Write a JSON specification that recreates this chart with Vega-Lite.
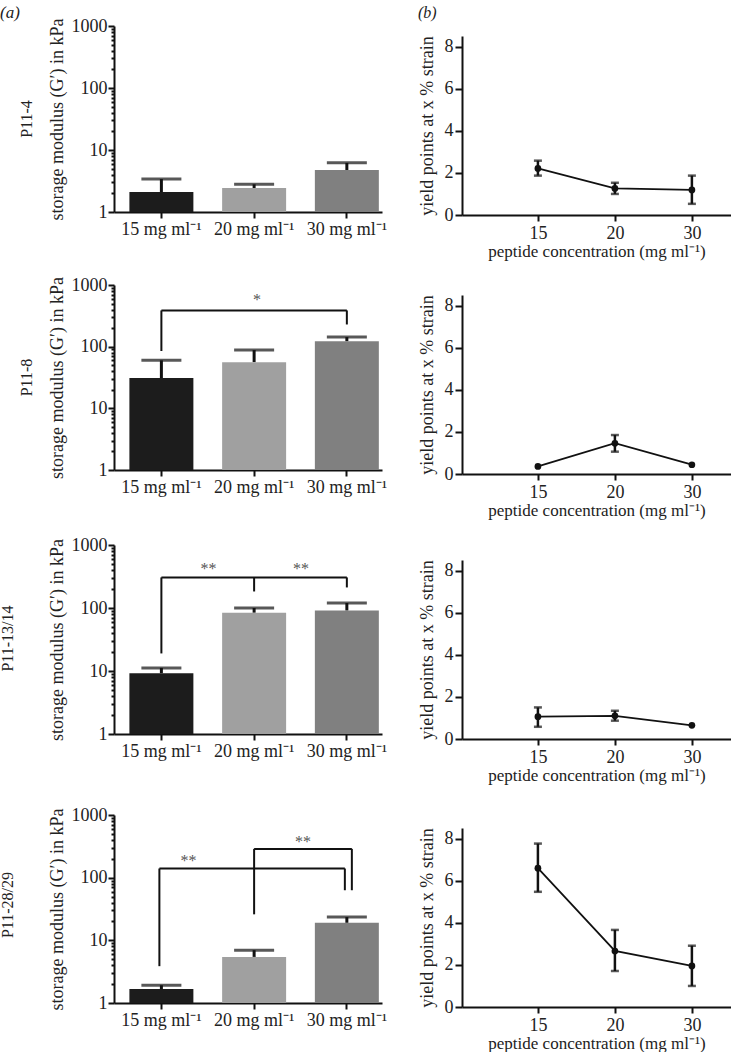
{
  "$schema": "https://vega.github.io/schema/vega-lite/v6.json",
  "background": "white",
  "padding": {"left": 0, "top": 4, "right": 0, "bottom": 4},
  "config": {
    "font": "Liberation Serif",
    "view": {"stroke": null},
    "axis": {"domainColor": "#111", "domainWidth": 2, "tickColor": "#111", "tickWidth": 2, "labelFont": "Liberation Serif", "titleFont": "Liberation Serif", "labelFontSize": 18, "labelColor": "#222", "titleFontSize": 18, "titleFontWeight": "normal", "titleColor": "#222", "grid": false, "labelOverlap": false},
    "title": {"font": "Liberation Serif", "fontWeight": "normal", "fontSize": 16, "color": "#222"}
  },
  "spacing": 31,
  "hconcat": [
    {
      "title": {"text": "(a)", "anchor": "start", "fontStyle": "italic", "fontSize": 17, "offset": -5},
      "bounds": "flush",
      "spacing": 73,
      "vconcat": [
        {
          "title": {"text": "P11-4", "orient": "left", "offset": 13, "anchor": "middle"},
          "width": 268, "height": 186,
          "data": {"values": [
            {"cat": "15 mg ml⁻¹", "v": 2.1, "err": 3.4},
            {"cat": "20 mg ml⁻¹", "v": 2.44, "err": 2.8},
            {"cat": "30 mg ml⁻¹", "v": 4.75, "err": 6.2}
          ]},
          "layer": [
            {"mark": {"type": "rule", "color": "#111", "strokeWidth": 3}, "encoding": {"x": {"field": "cat", "type": "nominal"}, "y": {"field": "v", "type": "quantitative"}, "y2": {"field": "err"}}},
            {"mark": {"type": "bar"}, "encoding": {
              "x": {"field": "cat", "type": "nominal", "scale": {"domain": ["15 mg ml⁻¹", "20 mg ml⁻¹", "30 mg ml⁻¹"], "paddingInner": 0.31, "paddingOuter": 0.1, "align": 0.83}, "axis": {"title": null, "labelAngle": 0, "labelAlign": "center", "labelBaseline": "top", "tickSize": 6, "labelPadding": 2}},
              "y": {"field": "v", "type": "quantitative", "scale": {"type": "log", "domain": [1, 1000]}, "axis": {"title": "storage modulus (G′) in kPa", "values": [1,2,3,4,5,6,7,8,9,10,20,30,40,50,60,70,80,90,100,200,300,400,500,600,700,800,900,1000], "format": "d", "labelExpr": "indexof([1,10,100,1000], datum.value) >= 0 ? datum.label : ''", "tickSize": {"condition": {"test": "indexof([1,10,100,1000], datum.value) >= 0", "value": 6}, "value": 3}, "labelPadding": 1, "titlePadding": 5}},
              "y2": {"datum": 1},
              "color": {"field": "cat", "type": "nominal", "scale": {"domain": ["15 mg ml⁻¹", "20 mg ml⁻¹", "30 mg ml⁻¹"], "range": ["#1c1c1c", "#a0a0a0", "#808080"]}, "legend": null}
            }},
            {"mark": {"type": "tick", "orient": "horizontal", "size": 40, "thickness": 3, "color": "#111"}, "encoding": {"x": {"field": "cat", "type": "nominal"}, "y": {"field": "err", "type": "quantitative"}}}
          ]
        },
        {
          "title": {"text": "P11-8", "orient": "left", "offset": 13, "anchor": "middle"},
          "width": 268, "height": 185,
          "data": {"values": [
            {"cat": "15 mg ml⁻¹", "v": 31, "err": 60},
            {"cat": "20 mg ml⁻¹", "v": 56, "err": 88},
            {"cat": "30 mg ml⁻¹", "v": 122, "err": 143}
          ]},
          "layer": [
            {"mark": {"type": "rule", "color": "#111", "strokeWidth": 3}, "encoding": {"x": {"field": "cat", "type": "nominal"}, "y": {"field": "v", "type": "quantitative"}, "y2": {"field": "err"}}},
            {"mark": {"type": "bar"}, "encoding": {
              "x": {"field": "cat", "type": "nominal", "scale": {"domain": ["15 mg ml⁻¹", "20 mg ml⁻¹", "30 mg ml⁻¹"], "paddingInner": 0.31, "paddingOuter": 0.1, "align": 0.83}, "axis": {"title": null, "labelAngle": 0, "labelAlign": "center", "labelBaseline": "top", "tickSize": 6, "labelPadding": 2}},
              "y": {"field": "v", "type": "quantitative", "scale": {"type": "log", "domain": [1, 1000]}, "axis": {"title": "storage modulus (G′) in kPa", "values": [1,2,3,4,5,6,7,8,9,10,20,30,40,50,60,70,80,90,100,200,300,400,500,600,700,800,900,1000], "format": "d", "labelExpr": "indexof([1,10,100,1000], datum.value) >= 0 ? datum.label : ''", "tickSize": {"condition": {"test": "indexof([1,10,100,1000], datum.value) >= 0", "value": 6}, "value": 3}, "labelPadding": 1, "titlePadding": 5}},
              "y2": {"datum": 1},
              "color": {"field": "cat", "type": "nominal", "scale": {"domain": ["15 mg ml⁻¹", "20 mg ml⁻¹", "30 mg ml⁻¹"], "range": ["#1c1c1c", "#a0a0a0", "#808080"]}, "legend": null}
            }},
            {"mark": {"type": "tick", "orient": "horizontal", "size": 40, "thickness": 3, "color": "#111"}, "encoding": {"x": {"field": "cat", "type": "nominal"}, "y": {"field": "err", "type": "quantitative"}}},
            {"data": {"values": [
              {"c1": "15 mg ml⁻¹", "c2": "15 mg ml⁻¹", "y1": 85, "y2": 387},
              {"c1": "15 mg ml⁻¹", "c2": "30 mg ml⁻¹", "y1": 387, "y2": 387},
              {"c1": "30 mg ml⁻¹", "c2": "30 mg ml⁻¹", "y1": 229, "y2": 387}
            ]}, "mark": {"type": "rule", "color": "#111", "strokeWidth": 2}, "encoding": {"x": {"field": "c1", "type": "nominal"}, "x2": {"field": "c2"}, "y": {"field": "y1", "type": "quantitative"}, "y2": {"field": "y2"}}},
            {"data": {"values": [{"c": "20 mg ml⁻¹", "y": 570, "s": "*"}]}, "mark": {"type": "text", "fontSize": 16, "color": "#555", "baseline": "middle", "dx": 3}, "encoding": {"x": {"field": "c", "type": "nominal"}, "y": {"field": "y", "type": "quantitative"}, "text": {"field": "s"}}}
          ]
        },
        {
          "title": {"text": "P11-13/14", "orient": "left", "offset": 32, "anchor": "middle"},
          "width": 268, "height": 191,
          "data": {"values": [
            {"cat": "15 mg ml⁻¹", "v": 9.2, "err": 11.2},
            {"cat": "20 mg ml⁻¹", "v": 84, "err": 100},
            {"cat": "30 mg ml⁻¹", "v": 91, "err": 120}
          ]},
          "layer": [
            {"mark": {"type": "rule", "color": "#111", "strokeWidth": 3}, "encoding": {"x": {"field": "cat", "type": "nominal"}, "y": {"field": "v", "type": "quantitative"}, "y2": {"field": "err"}}},
            {"mark": {"type": "bar"}, "encoding": {
              "x": {"field": "cat", "type": "nominal", "scale": {"domain": ["15 mg ml⁻¹", "20 mg ml⁻¹", "30 mg ml⁻¹"], "paddingInner": 0.31, "paddingOuter": 0.1, "align": 0.83}, "axis": {"title": null, "labelAngle": 0, "labelAlign": "center", "labelBaseline": "top", "tickSize": 6, "labelPadding": 2}},
              "y": {"field": "v", "type": "quantitative", "scale": {"type": "log", "domain": [1, 1000], "range": [191, 2]}, "axis": {"title": "storage modulus (G′) in kPa", "values": [1,2,3,4,5,6,7,8,9,10,20,30,40,50,60,70,80,90,100,200,300,400,500,600,700,800,900,1000], "format": "d", "labelExpr": "indexof([1,10,100,1000], datum.value) >= 0 ? datum.label : ''", "tickSize": {"condition": {"test": "indexof([1,10,100,1000], datum.value) >= 0", "value": 6}, "value": 3}, "labelPadding": 1, "titlePadding": 5}},
              "y2": {"datum": 1},
              "color": {"field": "cat", "type": "nominal", "scale": {"domain": ["15 mg ml⁻¹", "20 mg ml⁻¹", "30 mg ml⁻¹"], "range": ["#1c1c1c", "#a0a0a0", "#808080"]}, "legend": null}
            }},
            {"mark": {"type": "tick", "orient": "horizontal", "size": 40, "thickness": 3, "color": "#111"}, "encoding": {"x": {"field": "cat", "type": "nominal"}, "y": {"field": "err", "type": "quantitative"}}},
            {"data": {"values": [
              {"c1": "15 mg ml⁻¹", "c2": "15 mg ml⁻¹", "y1": 19, "y2": 306},
              {"c1": "15 mg ml⁻¹", "c2": "30 mg ml⁻¹", "y1": 306, "y2": 306},
              {"c1": "20 mg ml⁻¹", "c2": "20 mg ml⁻¹", "y1": 183, "y2": 306},
              {"c1": "30 mg ml⁻¹", "c2": "30 mg ml⁻¹", "y1": 212, "y2": 306}
            ]}, "mark": {"type": "rule", "color": "#111", "strokeWidth": 2}, "encoding": {"x": {"field": "c1", "type": "nominal"}, "x2": {"field": "c2"}, "y": {"field": "y1", "type": "quantitative"}, "y2": {"field": "y2"}}},
            {"data": {"values": [{"c": "15 mg ml⁻¹", "y": 420, "s": "**"}, {"c": "20 mg ml⁻¹", "y": 420, "s": "**"}]}, "mark": {"type": "text", "fontSize": 16, "color": "#555", "baseline": "middle", "dx": 47}, "encoding": {"x": {"field": "c", "type": "nominal"}, "y": {"field": "y", "type": "quantitative"}, "text": {"field": "s"}}}
          ]
        },
        {
          "title": {"text": "P11-28/29", "orient": "left", "offset": 32, "anchor": "middle"},
          "width": 268, "height": 196,
          "data": {"values": [
            {"cat": "15 mg ml⁻¹", "v": 1.67, "err": 1.92},
            {"cat": "20 mg ml⁻¹", "v": 5.44, "err": 6.97},
            {"cat": "30 mg ml⁻¹", "v": 19.0, "err": 23.5}
          ]},
          "layer": [
            {"mark": {"type": "rule", "color": "#111", "strokeWidth": 3}, "encoding": {"x": {"field": "cat", "type": "nominal"}, "y": {"field": "v", "type": "quantitative"}, "y2": {"field": "err"}}},
            {"mark": {"type": "bar"}, "encoding": {
              "x": {"field": "cat", "type": "nominal", "scale": {"domain": ["15 mg ml⁻¹", "20 mg ml⁻¹", "30 mg ml⁻¹"], "paddingInner": 0.31, "paddingOuter": 0.1, "align": 0.83}, "axis": {"title": null, "labelAngle": 0, "labelAlign": "center", "labelBaseline": "top", "tickSize": 6, "labelPadding": 2}},
              "y": {"field": "v", "type": "quantitative", "scale": {"type": "log", "domain": [1, 1000], "range": [196, 8]}, "axis": {"title": "storage modulus (G′) in kPa", "values": [1,2,3,4,5,6,7,8,9,10,20,30,40,50,60,70,80,90,100,200,300,400,500,600,700,800,900,1000], "format": "d", "labelExpr": "indexof([1,10,100,1000], datum.value) >= 0 ? datum.label : ''", "tickSize": {"condition": {"test": "indexof([1,10,100,1000], datum.value) >= 0", "value": 6}, "value": 3}, "labelPadding": 1, "titlePadding": 5}},
              "y2": {"datum": 1},
              "color": {"field": "cat", "type": "nominal", "scale": {"domain": ["15 mg ml⁻¹", "20 mg ml⁻¹", "30 mg ml⁻¹"], "range": ["#1c1c1c", "#a0a0a0", "#808080"]}, "legend": null}
            }},
            {"mark": {"type": "tick", "orient": "horizontal", "size": 40, "thickness": 3, "color": "#111"}, "encoding": {"x": {"field": "cat", "type": "nominal"}, "y": {"field": "err", "type": "quantitative"}}},
            {"data": {"values": [
              {"c1": "15 mg ml⁻¹", "c2": "15 mg ml⁻¹", "y1": 3.87, "y2": 140},
              {"c1": "15 mg ml⁻¹", "c2": "30 mg ml⁻¹", "y1": 140, "y2": 140},
              {"c1": "30 mg ml⁻¹", "c2": "30 mg ml⁻¹", "y1": 63, "y2": 140}
            ]}, "mark": {"type": "rule", "color": "#111", "strokeWidth": 2, "xOffset": -2, "x2Offset": -2}, "encoding": {"x": {"field": "c1", "type": "nominal"}, "x2": {"field": "c2"}, "y": {"field": "y1", "type": "quantitative"}, "y2": {"field": "y2"}}},
            {"data": {"values": [
              {"c1": "20 mg ml⁻¹", "c2": "20 mg ml⁻¹", "y1": 26, "y2": 288}
            ]}, "mark": {"type": "rule", "color": "#111", "strokeWidth": 2}, "encoding": {"x": {"field": "c1", "type": "nominal"}, "x2": {"field": "c2"}, "y": {"field": "y1", "type": "quantitative"}, "y2": {"field": "y2"}}},
            {"data": {"values": [
              {"c1": "20 mg ml⁻¹", "c2": "30 mg ml⁻¹", "y1": 288, "y2": 288}
            ]}, "mark": {"type": "rule", "color": "#111", "strokeWidth": 2, "x2Offset": 5}, "encoding": {"x": {"field": "c1", "type": "nominal"}, "x2": {"field": "c2"}, "y": {"field": "y1", "type": "quantitative"}, "y2": {"field": "y2"}}},
            {"data": {"values": [
              {"c1": "30 mg ml⁻¹", "c2": "30 mg ml⁻¹", "y1": 63, "y2": 288}
            ]}, "mark": {"type": "rule", "color": "#111", "strokeWidth": 2, "xOffset": 5, "x2Offset": 5}, "encoding": {"x": {"field": "c1", "type": "nominal"}, "x2": {"field": "c2"}, "y": {"field": "y1", "type": "quantitative"}, "y2": {"field": "y2"}}},
            {"data": {"values": [{"c": "15 mg ml⁻¹", "y": 185, "s": "**"}]}, "mark": {"type": "text", "fontSize": 16, "color": "#555", "baseline": "middle", "dx": 27}, "encoding": {"x": {"field": "c", "type": "nominal"}, "y": {"field": "y", "type": "quantitative"}, "text": {"field": "s"}}},
            {"data": {"values": [{"c": "20 mg ml⁻¹", "y": 372, "s": "**"}]}, "mark": {"type": "text", "fontSize": 16, "color": "#555", "baseline": "middle", "dx": 49}, "encoding": {"x": {"field": "c", "type": "nominal"}, "y": {"field": "y", "type": "quantitative"}, "text": {"field": "s"}}}
          ]
        }
      ]
    },
    {
      "title": {"text": "(b)", "anchor": "start", "fontStyle": "italic", "fontSize": 16, "offset": 5},
      "bounds": "flush",
      "spacing": 80,
      "vconcat": [
        {
          "width": 269, "height": 189,
          "data": {"values": [
            {"conc": "15", "v": 2.21, "lo": 1.87, "hi": 2.58},
            {"conc": "20", "v": 1.26, "lo": 1.0, "hi": 1.53},
            {"conc": "30", "v": 1.19, "lo": 0.53, "hi": 1.87}
          ]},
          "encoding": {
            "x": {"field": "conc", "type": "ordinal", "scale": {"type": "point", "domain": ["15", "20", "30"], "padding": 0.747, "align": 0.66}, "axis": {"title": "peptide concentration (mg ml⁻¹)", "titleFontSize": 17, "labelAngle": 0, "tickSize": 6, "labelPadding": 3, "titlePadding": 1}}
          },
          "layer": [
            {"transform": [{"filter": "isValid(datum.lo)"}], "mark": {"type": "rule", "color": "#111", "strokeWidth": 2.5}, "encoding": {"y": {"field": "lo", "type": "quantitative"}, "y2": {"field": "hi"}}},
            {"transform": [{"filter": "isValid(datum.lo)"}], "mark": {"type": "tick", "orient": "horizontal", "size": 8, "thickness": 2.5, "color": "#111"}, "encoding": {"y": {"field": "lo", "type": "quantitative"}}},
            {"transform": [{"filter": "isValid(datum.hi)"}], "mark": {"type": "tick", "orient": "horizontal", "size": 8, "thickness": 2.5, "color": "#111"}, "encoding": {"y": {"field": "hi", "type": "quantitative"}}},
            {"mark": {"type": "line", "color": "#111", "strokeWidth": 1.8}, "encoding": {"y": {"field": "v", "type": "quantitative", "scale": {"domain": [0, 8.5], "nice": false, "range": [189, 10]}, "axis": {"title": "yield points at x % strain", "values": [0, 2, 4, 6, 8], "tickSize": 7, "labelPadding": 2, "titlePadding": 8}}}},
            {"mark": {"type": "point", "filled": true, "color": "#111", "size": 45, "opacity": 1}, "encoding": {"y": {"field": "v", "type": "quantitative"}}}
          ]
        },
        {
          "width": 269, "height": 179,
          "data": {"values": [
            {"conc": "15", "v": 0.36, "lo": null, "hi": null},
            {"conc": "20", "v": 1.46, "lo": 1.06, "hi": 1.85},
            {"conc": "30", "v": 0.44, "lo": null, "hi": null}
          ]},
          "encoding": {
            "x": {"field": "conc", "type": "ordinal", "scale": {"type": "point", "domain": ["15", "20", "30"], "padding": 0.747, "align": 0.66}, "axis": {"title": "peptide concentration (mg ml⁻¹)", "titleFontSize": 17, "labelAngle": 0, "tickSize": 6, "labelPadding": 3, "titlePadding": 1}}
          },
          "layer": [
            {"transform": [{"filter": "isValid(datum.lo)"}], "mark": {"type": "rule", "color": "#111", "strokeWidth": 2.5}, "encoding": {"y": {"field": "lo", "type": "quantitative"}, "y2": {"field": "hi"}}},
            {"transform": [{"filter": "isValid(datum.lo)"}], "mark": {"type": "tick", "orient": "horizontal", "size": 8, "thickness": 2.5, "color": "#111"}, "encoding": {"y": {"field": "lo", "type": "quantitative"}}},
            {"transform": [{"filter": "isValid(datum.hi)"}], "mark": {"type": "tick", "orient": "horizontal", "size": 8, "thickness": 2.5, "color": "#111"}, "encoding": {"y": {"field": "hi", "type": "quantitative"}}},
            {"mark": {"type": "line", "color": "#111", "strokeWidth": 1.8}, "encoding": {"y": {"field": "v", "type": "quantitative", "scale": {"domain": [0, 8.5], "nice": false}, "axis": {"title": "yield points at x % strain", "values": [0, 2, 4, 6, 8], "tickSize": 7, "labelPadding": 2, "titlePadding": 8}}}},
            {"mark": {"type": "point", "filled": true, "color": "#111", "size": 45, "opacity": 1}, "encoding": {"y": {"field": "v", "type": "quantitative"}}}
          ]
        },
        {
          "width": 269, "height": 185,
          "data": {"values": [
            {"conc": "15", "v": 1.06, "lo": 0.58, "hi": 1.5},
            {"conc": "20", "v": 1.1, "lo": 0.87, "hi": 1.34},
            {"conc": "30", "v": 0.65, "lo": null, "hi": null}
          ]},
          "encoding": {
            "x": {"field": "conc", "type": "ordinal", "scale": {"type": "point", "domain": ["15", "20", "30"], "padding": 0.747, "align": 0.66}, "axis": {"title": "peptide concentration (mg ml⁻¹)", "titleFontSize": 17, "labelAngle": 0, "tickSize": 6, "labelPadding": 3, "titlePadding": 1}}
          },
          "layer": [
            {"transform": [{"filter": "isValid(datum.lo)"}], "mark": {"type": "rule", "color": "#111", "strokeWidth": 2.5}, "encoding": {"y": {"field": "lo", "type": "quantitative"}, "y2": {"field": "hi"}}},
            {"transform": [{"filter": "isValid(datum.lo)"}], "mark": {"type": "tick", "orient": "horizontal", "size": 8, "thickness": 2.5, "color": "#111"}, "encoding": {"y": {"field": "lo", "type": "quantitative"}}},
            {"transform": [{"filter": "isValid(datum.hi)"}], "mark": {"type": "tick", "orient": "horizontal", "size": 8, "thickness": 2.5, "color": "#111"}, "encoding": {"y": {"field": "hi", "type": "quantitative"}}},
            {"mark": {"type": "line", "color": "#111", "strokeWidth": 1.8}, "encoding": {"y": {"field": "v", "type": "quantitative", "scale": {"domain": [0, 8.5], "nice": false, "range": [185, 6]}, "axis": {"title": "yield points at x % strain", "values": [0, 2, 4, 6, 8], "tickSize": 7, "labelPadding": 2, "titlePadding": 8}}}},
            {"mark": {"type": "point", "filled": true, "color": "#111", "size": 45, "opacity": 1}, "encoding": {"y": {"field": "v", "type": "quantitative"}}}
          ]
        },
        {
          "width": 269, "height": 188,
          "data": {"values": [
            {"conc": "15", "v": 6.59, "lo": 5.47, "hi": 7.76},
            {"conc": "20", "v": 2.66, "lo": 1.71, "hi": 3.66},
            {"conc": "30", "v": 1.95, "lo": 1.0, "hi": 2.91}
          ]},
          "encoding": {
            "x": {"field": "conc", "type": "ordinal", "scale": {"type": "point", "domain": ["15", "20", "30"], "padding": 0.747, "align": 0.66}, "axis": {"title": "peptide concentration (mg ml⁻¹)", "titleFontSize": 17, "labelAngle": 0, "tickSize": 6, "labelPadding": 3, "titlePadding": 1}}
          },
          "layer": [
            {"transform": [{"filter": "isValid(datum.lo)"}], "mark": {"type": "rule", "color": "#111", "strokeWidth": 2.5}, "encoding": {"y": {"field": "lo", "type": "quantitative"}, "y2": {"field": "hi"}}},
            {"transform": [{"filter": "isValid(datum.lo)"}], "mark": {"type": "tick", "orient": "horizontal", "size": 8, "thickness": 2.5, "color": "#111"}, "encoding": {"y": {"field": "lo", "type": "quantitative"}}},
            {"transform": [{"filter": "isValid(datum.hi)"}], "mark": {"type": "tick", "orient": "horizontal", "size": 8, "thickness": 2.5, "color": "#111"}, "encoding": {"y": {"field": "hi", "type": "quantitative"}}},
            {"mark": {"type": "line", "color": "#111", "strokeWidth": 1.8}, "encoding": {"y": {"field": "v", "type": "quantitative", "scale": {"domain": [0, 8.5], "nice": false, "range": [188, 9]}, "axis": {"title": "yield points at x % strain", "values": [0, 2, 4, 6, 8], "tickSize": 7, "labelPadding": 2, "titlePadding": 8}}}},
            {"mark": {"type": "point", "filled": true, "color": "#111", "size": 45, "opacity": 1}, "encoding": {"y": {"field": "v", "type": "quantitative"}}}
          ]
        }
      ]
    }
  ]
}
